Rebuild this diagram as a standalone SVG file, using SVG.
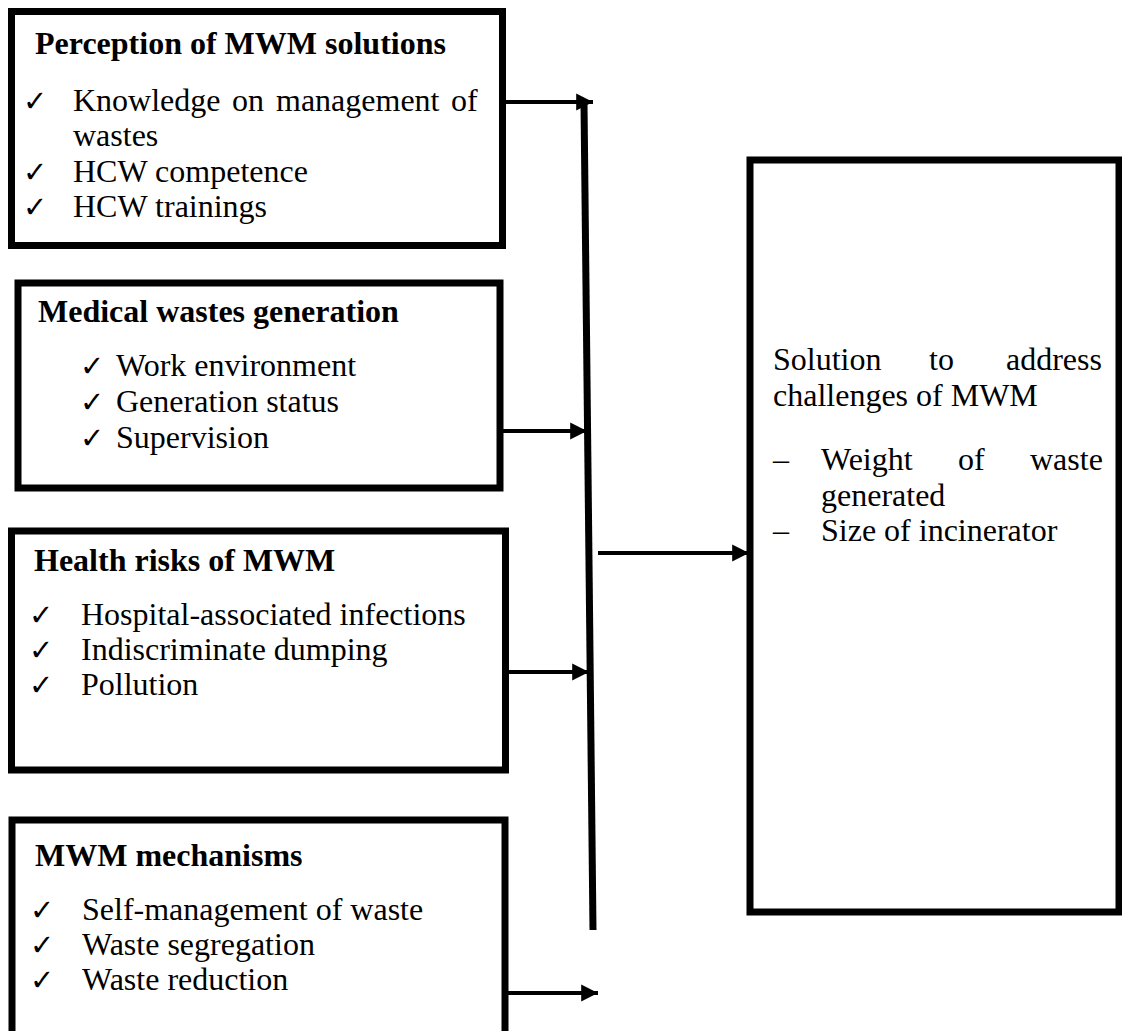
<svg xmlns="http://www.w3.org/2000/svg" width="1122" height="1031" viewBox="0 0 1122 1031">
<style>
.box{fill:#fff;stroke:#000;stroke-width:7}
.t{font-family:"Liberation Serif","Times New Roman",serif;font-size:32px;fill:#000}
.b{font-weight:bold}
.ck{font-family:"DejaVu Sans",sans-serif;font-size:29px;fill:#000}
.ln{stroke:#000;stroke-width:4;fill:none}
</style>
<defs>
<marker id="ah" viewBox="0 0 10 10" refX="10" refY="5" markerWidth="4.2" markerHeight="4.6" orient="auto" markerUnits="strokeWidth">
<path d="M0,0 L10,5 L0,10 z" fill="#000"/>
</marker>
</defs>
<rect x="0" y="0" width="1122" height="1031" fill="#fff"/>
<g id="connectors">
<line class="ln" x1="506" y1="102" x2="593" y2="102" marker-end="url(#ah)"/>
<line x1="584" y1="103" x2="593" y2="930" stroke="#000" stroke-width="7"/>
<line class="ln" x1="502" y1="431" x2="587" y2="431" marker-end="url(#ah)"/>
<line class="ln" x1="508" y1="672" x2="589" y2="672" marker-end="url(#ah)"/>
<line class="ln" x1="508" y1="993" x2="598" y2="993" marker-end="url(#ah)"/>
<line class="ln" x1="598" y1="553" x2="749" y2="553" marker-end="url(#ah)"/>
</g>
<g id="perception">
<rect class="box" x="11.5" y="11.5" width="491" height="234"/>
<text class="t b" x="35" y="54">Perception of MWM solutions</text>
<text class="ck" x="23" y="111">✓</text>
<text class="t" y="111"><tspan x="73">Knowledge</tspan><tspan x="232">on</tspan><tspan x="276">management</tspan><tspan x="451">of</tspan></text>
<text class="t" x="73" y="146">wastes</text>
<text class="ck" x="23" y="182">✓</text>
<text class="t" x="73" y="182">HCW competence</text>
<text class="ck" x="23" y="217">✓</text>
<text class="t" x="73" y="217">HCW trainings</text>
</g>
<g id="generation">
<rect class="box" x="18" y="283" width="482" height="205"/>
<text class="t b" x="38" y="322">Medical wastes generation</text>
<text class="ck" x="80" y="376">✓</text>
<text class="t" x="116" y="376">Work environment</text>
<text class="ck" x="80" y="412">✓</text>
<text class="t" x="116" y="412">Generation status</text>
<text class="ck" x="80" y="448">✓</text>
<text class="t" x="116" y="448">Supervision</text>
</g>
<g id="health">
<rect class="box" x="11.5" y="531" width="494" height="239"/>
<text class="t b" x="34" y="571">Health risks of MWM</text>
<text class="ck" x="29" y="625">✓</text>
<text class="t" x="81" y="625">Hospital-associated infections</text>
<text class="ck" x="29" y="660">✓</text>
<text class="t" x="81" y="660">Indiscriminate dumping</text>
<text class="ck" x="29" y="695">✓</text>
<text class="t" x="81" y="695">Pollution</text>
</g>
<g id="mechanisms">
<rect class="box" x="12" y="820" width="493" height="220"/>
<text class="t b" x="35" y="866">MWM mechanisms</text>
<text class="ck" x="30" y="920">✓</text>
<text class="t" x="82" y="920">Self-management of waste</text>
<text class="ck" x="30" y="955">✓</text>
<text class="t" x="82" y="955">Waste segregation</text>
<text class="ck" x="30" y="990">✓</text>
<text class="t" x="82" y="990">Waste reduction</text>
</g>
<g id="solution">
<rect class="box" x="750" y="160" width="369" height="752"/>
<text class="t" y="370"><tspan x="773">Solution</tspan><tspan x="929">to</tspan><tspan x="1006">address</tspan></text>
<text class="t" x="773" y="406">challenges of MWM</text>
<text class="t" x="773" y="470">–</text>
<text class="t" y="470"><tspan x="821">Weight</tspan><tspan x="958">of</tspan><tspan x="1030">waste</tspan></text>
<text class="t" x="821" y="506">generated</text>
<text class="t" x="773" y="541">–</text>
<text class="t" x="821" y="541">Size of incinerator</text>
</g>
</svg>
